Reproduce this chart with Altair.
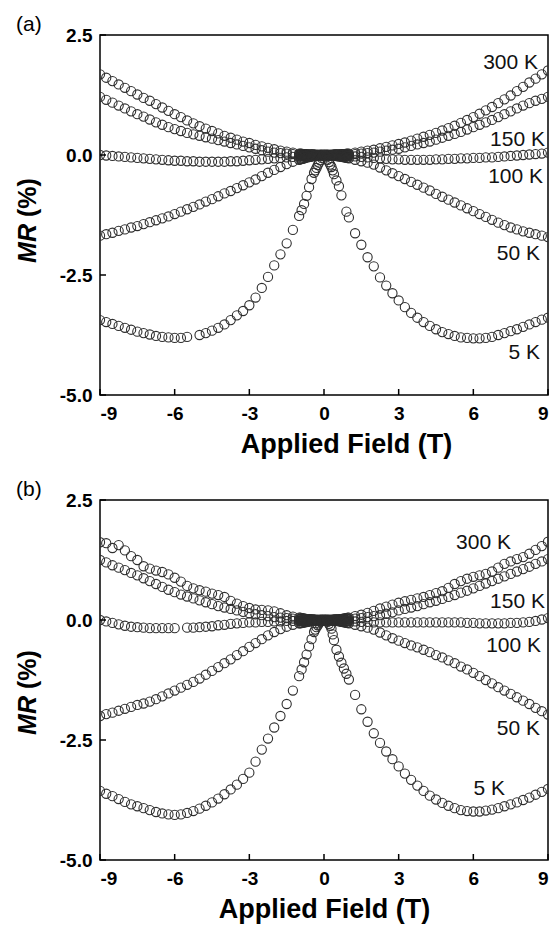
import altair as alt
import pandas as pd

FONT = "Liberation Sans"

# ---- field grid (T) ----
FIELD_NEG = [-9.0, -8.75, -8.5, -8.25, -8.0, -7.75, -7.5, -7.25, -7.0, -6.75, -6.5, -6.25,
             -6.0, -5.75, -5.5, -5.25, -5.0, -4.75, -4.5, -4.25, -4.0, -3.75, -3.5, -3.25,
             -3.0, -2.75, -2.5, -2.25, -2.0, -1.75, -1.5, -1.25,
             -1.0, -0.95, -0.9, -0.85, -0.8, -0.75, -0.7, -0.65, -0.6, -0.55,
             -0.5, -0.45, -0.4, -0.35, -0.3, -0.25, -0.2, -0.15, -0.1, -0.05]
FIELD_POS = [0.05, 0.1, 0.15, 0.2, 0.25, 0.3, 0.35, 0.4, 0.45, 0.5,
             0.55, 0.6, 0.65, 0.7, 0.75, 0.8, 0.85, 0.9, 0.95, 1.0,
             1.25, 1.5, 1.75, 2.0, 2.25, 2.5, 2.75, 3.0, 3.25, 3.5, 3.75, 4.0,
             4.25, 4.5, 4.75, 5.0, 5.25, 5.5, 5.75, 6.0, 6.25, 6.5, 6.75, 7.0,
             7.25, 7.5, 7.75, 8.0, 8.25, 8.5, 8.75, 9.0]
FIELD = FIELD_NEG + [0.0] + FIELD_POS

TEMPS = ["300 K", "150 K", "100 K", "50 K", "5 K"]

# ---- panel (a): MR (%) ----
A_300_NEG = [1.68, 1.61, 1.54, 1.47, 1.40, 1.33, 1.26, 1.19, 1.13, 1.06, 0.99, 0.92,
             0.85, 0.79, 0.72, 0.66, 0.60, 0.55, 0.50, 0.45, 0.40, 0.36, 0.32, 0.28,
             0.25, 0.21, 0.18, 0.15, 0.12, 0.09, 0.07, 0.05,
             0.03, 0.03, 0.03, 0.02, 0.02, 0.02, 0.02, 0.01, 0.01, 0.01,
             0.01, 0.01, 0.01, 0.0, 0.0, 0.0, 0.0, 0.0, 0.0, 0.0]
A_300_POS = [0.0, 0.0, 0.0, 0.0, 0.0, 0.0, 0.0, 0.01, 0.01, 0.01,
             0.01, 0.01, 0.01, 0.02, 0.02, 0.02, 0.02, 0.03, 0.03, 0.03,
             0.05, 0.07, 0.09, 0.11, 0.14, 0.17, 0.20, 0.23, 0.26, 0.30, 0.34, 0.38,
             0.42, 0.46, 0.51, 0.56, 0.61, 0.67, 0.73, 0.79, 0.86, 0.93, 1.00, 1.08,
             1.16, 1.24, 1.33, 1.42, 1.51, 1.59, 1.68, 1.76]
A_150_NEG = [1.21, 1.15, 1.09, 1.03, 0.97, 0.91, 0.85, 0.80, 0.74, 0.68, 0.63, 0.58,
             0.54, 0.50, 0.46, 0.43, 0.40, 0.37, 0.34, 0.31, 0.28, 0.25, 0.22, 0.19,
             0.16, 0.13, 0.10, 0.07, 0.05, 0.04, 0.03, 0.02,
             0.01, 0.01, 0.01, 0.01, 0.01, 0.0, 0.0, 0.0, 0.0, 0.0,
             0.0, 0.0, 0.0, 0.0, 0.0, 0.0, 0.0, 0.0, 0.0, 0.0]
A_150_POS = [0.0, 0.0, 0.0, 0.0, 0.0, 0.0, 0.0, 0.0, 0.0, 0.0,
             0.0, 0.0, 0.0, 0.0, 0.0, 0.01, 0.01, 0.01, 0.01, 0.01,
             0.02, 0.03, 0.04, 0.05, 0.07, 0.09, 0.11, 0.13, 0.16, 0.19, 0.22, 0.25,
             0.28, 0.32, 0.36, 0.40, 0.44, 0.48, 0.53, 0.58, 0.63, 0.68, 0.73, 0.79,
             0.85, 0.91, 0.97, 1.03, 1.08, 1.13, 1.17, 1.21]
A_100_NEG = [0.0, -0.01, -0.02, -0.03, -0.04, -0.05, -0.06, -0.07, -0.08, -0.09, -0.10, -0.11,
             -0.12, -0.12, -0.13, -0.13, -0.14, -0.14, -0.14, -0.14, -0.14, -0.13, -0.13, -0.12,
             -0.11, -0.10, -0.09, -0.08, -0.07, -0.06, -0.05, -0.04,
             -0.03, -0.03, -0.02, -0.02, -0.02, -0.02, -0.01, -0.01, -0.01, -0.01,
             0.0, 0.0, 0.0, 0.0, 0.0, 0.0, 0.0, 0.0, 0.0, 0.0]
A_100_POS = [0.0, 0.0, 0.0, 0.0, 0.0, 0.0, 0.0, 0.0, 0.0, 0.0,
             -0.01, -0.01, -0.01, -0.01, -0.01, -0.02, -0.02, -0.02, -0.02, -0.02,
             -0.03, -0.04, -0.05, -0.06, -0.07, -0.08, -0.09, -0.09, -0.10, -0.10, -0.10, -0.10,
             -0.10, -0.09, -0.09, -0.08, -0.08, -0.07, -0.07, -0.06, -0.06, -0.05, -0.05, -0.04,
             -0.03, -0.02, -0.01, 0.0, 0.01, 0.02, 0.03, 0.05]
A_50_NEG = [-1.68, -1.65, -1.62, -1.58, -1.55, -1.51, -1.48, -1.44, -1.40, -1.36, -1.32, -1.28,
            -1.23, -1.18, -1.13, -1.08, -1.03, -0.97, -0.92, -0.86, -0.80, -0.75, -0.69, -0.63,
            -0.57, -0.51, -0.44, -0.37, -0.31, -0.25, -0.19, -0.14,
            -0.10, -0.09, -0.08, -0.08, -0.07, -0.06, -0.05, -0.05, -0.04, -0.04,
            -0.03, -0.03, -0.02, -0.02, -0.01, -0.01, -0.01, 0.0, 0.0, 0.0]
A_50_POS = [0.0, 0.0, 0.0, -0.01, -0.01, -0.01, -0.01, -0.02, -0.02, -0.02,
            -0.03, -0.03, -0.03, -0.04, -0.04, -0.05, -0.05, -0.06, -0.06, -0.07,
            -0.10, -0.13, -0.16, -0.20, -0.26, -0.32, -0.38, -0.44, -0.50, -0.56, -0.62, -0.68,
            -0.74, -0.81, -0.87, -0.93, -0.99, -1.05, -1.11, -1.17, -1.23, -1.29, -1.35, -1.41,
            -1.46, -1.51, -1.55, -1.59, -1.62, -1.65, -1.68, -1.71]
A_5_NEG = [-3.44, -3.48, -3.52, -3.56, -3.60, -3.64, -3.68, -3.71, -3.74, -3.77, -3.79, -3.80,
           -3.81, -3.81, -3.79, None, -3.75, -3.71, -3.66, -3.60, -3.53, -3.44, -3.34, -3.25,
           -3.13, -2.97, -2.77, -2.54, -2.30, -2.07, -1.84, -1.56,
           -1.27, None, -1.15, None, -1.02, None, -0.85, None, -0.67, None,
           -0.50, None, -0.37, -0.32, -0.27, -0.21, -0.16, -0.11, -0.06, -0.02]
A_5_POS = [-0.02, -0.05, -0.10, -0.15, -0.20, -0.25, -0.32, -0.40, None, -0.53,
           None, -0.65, None, -0.84, None, None, None, -1.18, None, -1.30,
           -1.63, -1.87, -2.13, -2.32, -2.55, -2.72, -2.88, -3.03, -3.17, -3.29, -3.39, -3.48,
           -3.56, -3.63, -3.69, -3.73, -3.77, -3.80, -3.81, -3.82, -3.82, -3.81, -3.79, -3.75,
           -3.71, -3.67, -3.63, -3.58, -3.53, -3.48, -3.43, -3.39]

# ---- panel (b): MR (%) ----
B_300_NEG = [1.62, 1.60, 1.50, 1.56, 1.45, 1.33, 1.25, 1.12, 1.07, 1.03, 1.00, 0.95,
             0.88, 0.80, 0.71, 0.66, 0.62, 0.59, 0.55, 0.52, 0.48, 0.40, 0.34, 0.29,
             0.25, 0.22, 0.21, 0.20, 0.18, 0.14, 0.10, 0.07,
             0.05, 0.05, 0.04, 0.04, 0.03, 0.03, 0.02, 0.02, 0.02, 0.01,
             0.01, 0.01, 0.01, 0.0, 0.0, 0.0, 0.0, 0.0, 0.0, 0.0]
B_300_POS = [0.0, 0.0, 0.0, 0.0, 0.0, 0.0, 0.0, 0.01, 0.01, 0.01,
             0.01, 0.02, 0.02, 0.02, 0.03, 0.03, 0.04, 0.04, 0.05, 0.05,
             0.08, 0.11, 0.15, 0.19, 0.24, 0.28, 0.32, 0.36, 0.39, 0.42, 0.45, 0.48,
             0.52, 0.56, 0.60, 0.67, 0.75, 0.81, 0.86, 0.90, 0.93, 0.96, 1.01, 1.09,
             1.17, 1.22, 1.27, 1.31, 1.38, 1.46, 1.54, 1.63]
B_150_NEG = [1.25, 1.20, 1.14, 1.09, 1.04, 0.98, 0.93, 0.87, 0.81, 0.75, 0.69, 0.63,
             0.58, 0.53, 0.49, 0.45, 0.41, 0.37, 0.33, 0.29, 0.26, 0.23, 0.20, 0.17,
             0.14, 0.12, 0.10, 0.08, 0.06, 0.05, 0.04, 0.03,
             0.02, 0.02, 0.02, 0.02, 0.01, 0.01, 0.01, 0.01, 0.01, 0.0,
             0.0, 0.0, 0.0, 0.0, 0.0, 0.0, 0.0, 0.0, 0.0, 0.0]
B_150_POS = [0.0, 0.0, 0.0, 0.0, 0.0, 0.0, 0.0, 0.0, 0.0, 0.0,
             0.0, 0.0, 0.01, 0.01, 0.01, 0.01, 0.01, 0.02, 0.02, 0.02,
             0.03, 0.04, 0.06, 0.08, 0.10, 0.13, 0.16, 0.20, 0.23, 0.26, 0.29, 0.33,
             0.37, 0.40, 0.44, 0.48, 0.52, 0.57, 0.61, 0.66, 0.71, 0.76, 0.81, 0.86,
             0.91, 0.96, 1.01, 1.06, 1.11, 1.17, 1.22, 1.27]
B_100_NEG = [0.0, -0.03, -0.06, -0.09, -0.12, -0.14, -0.15, -0.16, -0.17, -0.17, -0.17, -0.17,
             -0.17, None, -0.16, -0.16, -0.15, -0.14, -0.13, -0.11, -0.10, -0.08, -0.07, -0.06,
             -0.05, -0.05, -0.04, -0.04, -0.03, -0.03, -0.02, -0.02,
             -0.02, -0.02, -0.01, -0.01, -0.01, -0.01, -0.01, -0.01, 0.0, 0.0,
             0.0, 0.0, 0.0, 0.0, 0.0, 0.0, 0.0, 0.0, 0.0, 0.0]
B_100_POS = [0.0, 0.0, 0.0, 0.0, 0.0, 0.0, 0.0, 0.0, 0.0, 0.0,
             -0.01, -0.01, -0.01, -0.01, -0.01, -0.02, -0.02, -0.02, -0.02, -0.02,
             -0.03, -0.04, -0.04, -0.05, -0.05, -0.05, -0.05, -0.05, -0.05, -0.05, -0.05, -0.05,
             -0.05, -0.05, -0.05, -0.05, -0.05, -0.05, -0.06, -0.06, -0.07, -0.07, -0.07, -0.07,
             -0.07, -0.06, -0.06, -0.05, -0.04, -0.02, 0.01, 0.04]
B_50_NEG = [-2.00, -1.96, -1.93, -1.89, -1.85, -1.81, -1.77, -1.74, -1.70, -1.65, -1.59, -1.53,
            -1.47, -1.41, -1.35, -1.29, -1.22, -1.14, -1.06, -0.98, -0.90, -0.82, -0.73, -0.65,
            -0.56, -0.48, -0.40, -0.32, -0.25, -0.19, -0.14, -0.10,
            -0.07, -0.07, -0.06, -0.06, -0.05, -0.05, -0.04, -0.04, -0.03, -0.03,
            -0.02, -0.02, -0.02, -0.01, -0.01, -0.01, -0.01, 0.0, 0.0, 0.0]
B_50_POS = [0.0, 0.0, 0.0, 0.0, -0.01, -0.01, -0.01, -0.01, -0.02, -0.02,
            -0.02, -0.03, -0.03, -0.04, -0.04, -0.05, -0.05, -0.06, -0.06, -0.07,
            -0.10, -0.13, -0.16, -0.20, -0.26, -0.32, -0.38, -0.43, -0.48, -0.53, -0.57, -0.62,
            -0.67, -0.73, -0.78, -0.84, -0.90, -0.97, -1.03, -1.10, -1.17, -1.25, -1.32, -1.40,
            -1.47, -1.54, -1.61, -1.68, -1.75, -1.83, -1.90, -1.97]
B_5_NEG = [-3.56, -3.62, -3.67, -3.73, -3.79, -3.84, -3.88, -3.92, -3.96, -4.00, -4.03, -4.05,
           -4.06, -4.05, -4.02, -3.98, -3.93, -3.87, -3.80, -3.72, -3.63, -3.53, -3.43, -3.31,
           -3.18, -2.95, -2.70, -2.47, -2.24, -2.00, -1.75, -1.47,
           -1.17, None, -1.03, None, -0.88, None, -0.72, None, -0.55, None,
           -0.40, None, -0.25, -0.20, -0.15, -0.11, -0.07, -0.04, -0.02, 0.0]
B_5_POS = [0.0, -0.02, -0.04, -0.08, -0.12, -0.18, -0.30, -0.42, None, -0.62,
           None, -0.76, None, -0.89, None, -1.01, None, -1.12, None, -1.24,
           -1.56, -1.86, -2.12, -2.36, -2.56, -2.74, -2.90, -3.05, -3.20, -3.33, -3.45, -3.56,
           -3.66, -3.74, -3.81, -3.87, -3.92, -3.96, -3.98, -3.99, -3.99, -3.97, -3.95, -3.92,
           -3.88, -3.84, -3.80, -3.75, -3.70, -3.64, -3.58, -3.52]

# ---- temperature label anchors (data units, right-aligned) ----
A_LABEL_X = [8.6, 8.88, 8.8, 8.68, 8.68]
A_LABEL_Y = [1.92, 0.31, -0.46, -2.06, -4.12]
B_LABEL_X = [7.51, 8.88, 8.72, 8.68, 7.27]
B_LABEL_Y = [1.6, 0.38, -0.54, -2.27, -3.52]

X_TICKS = [-9, -6, -3, 0, 3, 6, 9]
Y_TICKS = [2.5, 0.0, -2.5, -5.0]

W, H = 448, 360

XS = alt.Scale(domain=[-9, 9], nice=False, zero=False)
YS = alt.Scale(domain=[-5, 2.5], nice=False, zero=False)
AY = alt.Axis(values=Y_TICKS, title=None,
              labelExpr="datum.value < 0 ? '-' + format(-datum.value, '.1f') : format(datum.value, '.1f')")


def build_df(curves):
    rows = []
    for temp, (neg, pos) in zip(TEMPS, curves):
        vals = neg + [0.0] + pos
        for f, v in zip(FIELD, vals):
            if v is not None:
                rows.append({"field": f, "mr": v, "T": temp})
    return pd.DataFrame(rows)


def panel(curves, lab_x, lab_y, tag, mr_y, pct_y, title_dx):
    ax = alt.Axis(values=X_TICKS, title="Applied Field (T)", titleX=W / 2 + title_dx,
                  labelExpr="datum.value < 0 ? '-' + format(-datum.value, 'd') : format(datum.value, 'd')")

    def xenc():
        return alt.X("field:Q", scale=XS, axis=ax)

    def yenc():
        return alt.Y("mr:Q", scale=YS, axis=AY)

    df = build_df(curves)
    pts = alt.Chart(df).mark_point(
        shape="circle", filled=False, size=85, color="#2e2e2e",
        strokeWidth=1.1, opacity=1, clip=True
    ).encode(x=xenc(), y=yenc(), detail="T:N")
    lab_df = pd.DataFrame({"T": TEMPS, "field": lab_x, "mr": lab_y})
    labs = alt.Chart(lab_df).mark_text(
        align="right", baseline="middle", fontSize=21, font=FONT, color="#111111"
    ).encode(x=xenc(), y=yenc(), text="T:N")
    xt = alt.Chart(pd.DataFrame({"field": X_TICKS})).mark_rule(color="black", strokeWidth=1.5).encode(
        x=xenc(), y=alt.value(H), y2=alt.value(H - 6))
    yt = alt.Chart(pd.DataFrame({"mr": Y_TICKS})).mark_rule(color="black", strokeWidth=1.5).encode(
        y=yenc(), x=alt.value(0), x2=alt.value(6))
    mr = alt.Chart(pd.DataFrame({"t": ["MR"]})).mark_text(
        angle=270, align="right", baseline="middle", fontSize=25, fontWeight="bold",
        fontStyle="italic", font=FONT, color="black"
    ).encode(text="t:N", x=alt.value(-72), y=alt.value(mr_y))
    pct = alt.Chart(pd.DataFrame({"t": ["(%)"]})).mark_text(
        angle=270, align="left", baseline="middle", fontSize=25, fontWeight="bold",
        font=FONT, color="black"
    ).encode(text="t:N", x=alt.value(-72), y=alt.value(pct_y))
    tg = alt.Chart(pd.DataFrame({"t": [tag]})).mark_text(
        align="left", baseline="top", fontSize=21, font=FONT, color="black"
    ).encode(text="t:N", x=alt.value(-84), y=alt.value(-21))
    return alt.layer(pts, labs, xt, yt, mr, pct, tg).properties(width=W, height=H)


pa = panel([(A_300_NEG, A_300_POS), (A_150_NEG, A_150_POS), (A_100_NEG, A_100_POS),
            (A_50_NEG, A_50_POS), (A_5_NEG, A_5_POS)],
           A_LABEL_X, A_LABEL_Y, "(a)", 189, 182, 22)
pb = panel([(B_300_NEG, B_300_POS), (B_150_NEG, B_150_POS), (B_100_NEG, B_100_POS),
            (B_50_NEG, B_50_POS), (B_5_NEG, B_5_POS)],
           B_LABEL_X, B_LABEL_Y, "(b)", 196, 189, 0)

chart = alt.vconcat(pa, pb, spacing=20).properties(
    padding={"left": 15, "top": 13, "right": 5, "bottom": 5}
).configure_view(
    stroke="black", strokeWidth=1.5
).configure_axis(
    domain=False, ticks=False, tickSize=0, grid=False,
    labelFont=FONT, labelFontSize=19, labelFontWeight="bold", labelColor="black",
    labelPadding=8,
    titleFont=FONT, titleFontSize=27, titleFontWeight="bold", titleColor="black",
    titlePadding=8,
).configure_axisX(labelPadding=9)

chart.save("out.html", embed_options={"renderer": "svg", "actions": False})
